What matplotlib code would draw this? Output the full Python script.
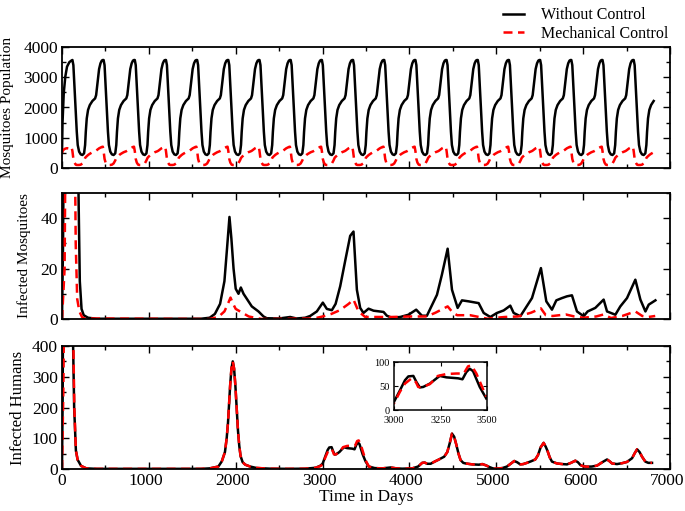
import numpy as np
import matplotlib
matplotlib.use("Agg")
import matplotlib.pyplot as plt
from matplotlib.ticker import MultipleLocator
from matplotlib.transforms import ScaledTranslation

plt.rcParams['font.family'] = ['Liberation Serif', 'DejaVu Serif']

# ---------------- data ----------------
# mosquito population: one yearly cycle (days after the peak), repeated
period = 359
first_peak = 120
n_peaks = 19
t_end = 6840

start_days = [0, 6, 20, 38, 58, 85, 110]
start_black = [500, 1500, 2470, 3020, 3350, 3500, 3555]
start_red = [490, 560, 610, 640, 655, 640, 690]

cycle_days = [0, 11, 23, 38, 50, 61, 77, 96, 115, 134, 146, 154, 165, 180, 200,
              230, 261, 273, 284, 296, 307, 323, 338, 350]
cycle_black = [3570, 3400, 2740, 1860, 1200, 760, 540, 450, 430, 485, 760, 1200,
               1640, 1920, 2080, 2215, 2300, 2410, 2690, 3020, 3270, 3460, 3550, 3570]
cycle_red = [560, 300, 180, 110, 100, 100, 100, 110, 150, 250, 330, 360, 390, 430,
             470, 520, 555, 575, 600, 625, 650, 675, 695, 705]

# infected mosquitoes
im_t_black = [0, 12, 22, 180, 192, 205, 225, 250, 300, 400, 1600, 1700, 1760, 1820,
              1870, 1900, 1928, 1950, 1975, 2000, 2032, 2059, 2090, 2128, 2185, 2262,
              2320, 2358, 2500, 2627, 2700, 2800, 2857, 2934, 3003, 3049, 3107, 3150,
              3203, 3260, 3318, 3356, 3395, 3433, 3471, 3529, 3587, 3702, 3740, 3798,
              3894, 3990, 4078, 4144, 4201, 4317, 4374, 4440, 4490, 4555, 4605, 4682,
              4797, 4855, 4931, 5008, 5085, 5161, 5200, 5277, 5411, 5514, 5576, 5641,
              5691, 5756, 5814, 5871, 5929, 6006, 6052, 6140, 6236, 6275, 6371, 6428,
              6505, 6601, 6659, 6717, 6755, 6832]
im_black = [0, 30, 80, 80, 45, 15, 4, 1.5, 0.5, 0.1, 0.1, 0.5, 2, 6,
            15, 28, 40.5, 32, 20, 12, 10, 12.5, 10, 8, 5, 3,
            1, 0.3, 0.2, 0.8, 0.2, 0.5, 1.2, 3, 6.5, 4, 3.5, 6,
            13, 23, 33, 34.7, 11.6, 4.4, 2.4, 4.1, 3.3, 2.8, 1.3, 0.5,
            0.8, 1.7, 3.7, 1.3, 1.3, 9.6, 17.6, 27.9, 11.6, 4.4, 7.4, 7.0,
            6.3, 2.4, 0.8, 2.4, 3.4, 5.3, 2.4, 1.1, 8.3, 20.2, 7.0, 3.7,
            7.4, 8.3, 9.0, 9.4, 3.0, 1.1, 3.0, 4.4, 7.7, 3.0, 1.7, 5.0,
            8.3, 15.6, 7.7, 3.0, 5.7, 7.4]
im_t_red = [0, 30, 42, 145, 158, 175, 200, 230, 260, 1700, 1800, 1870, 1910, 1940,
            1970, 2000, 2050, 2100, 2150, 2250, 2300, 2900, 3000, 3100, 3200, 3300,
            3356, 3414, 3491, 3587, 3800, 4000, 4200, 4300, 4440, 4500, 4550, 4700,
            4800, 4900, 5000, 5100, 5250, 5400, 5514, 5570, 5650, 5800, 5900, 6000,
            6150, 6236, 6320, 6450, 6601, 6680, 6750, 6830]
im_red = [0, 20, 80, 80, 30, 8, 3, 0.8, 0.2, 0, 0.8, 3, 6, 8.5,
          6, 4, 3, 2, 1, 0.3, 0, 0.2, 1, 2, 3.5, 6,
          7.7, 3, 0.8, 0.8, 0.8, 1, 1, 2.5, 5, 2.5, 1.5, 1.5,
          0.8, 0.1, 0.5, 0.8, 1, 2.5, 4.2, 1.5, 1.2, 1.8, 1, 0.5,
          1, 1.8, 0.4, 1.2, 3, 1.2, 0.8, 1.2]

# infected humans
ih_t_black = [0, 8, 15, 110, 125, 140, 160, 180, 220, 280, 400, 1600, 1700, 1800,
              1840, 1876, 1896, 1911, 1921, 1936, 1951, 1966, 1981, 1996, 2011, 2026,
              2041, 2056, 2080, 2110, 2166, 2243, 2320, 2400, 2600, 2800, 2919, 2970,
              3000, 3032, 3059, 3077, 3104, 3121, 3139, 3157, 3193, 3229, 3246, 3282,
              3345, 3368, 3389, 3407, 3425, 3461, 3496]
ih_black = [0, 250, 700, 700, 450, 200, 60, 30, 10, 2, 0.5, 0.5, 2, 8,
            25, 55, 100, 150, 197, 272, 327, 350, 327, 272, 197, 125,
            75, 42, 22, 14, 8, 3, 2, 1, 0.5, 1, 4, 10,
            17, 41, 62, 70, 71, 58, 47, 48, 55, 66, 71, 68,
            66, 64, 79, 86, 81, 48, 24]
ih_t_red = [0, 15, 30, 115, 128, 142, 160, 180, 220, 280, 400, 1600, 1700, 1800,
            1840, 1876, 1896, 1911, 1921, 1936, 1951, 1966, 1981, 1996, 2011, 2026,
            2041, 2056, 2080, 2110, 2166, 2243, 2320, 2400, 2600, 2800, 2919, 2970,
            3000, 3032, 3059, 3095, 3118, 3130, 3148, 3193, 3236, 3282, 3336, 3375,
            3398, 3416, 3443, 3496]
ih_red = [0, 250, 700, 700, 450, 200, 60, 30, 10, 2, 0.5, 0.5, 2, 8,
          25, 55, 100, 150, 197, 272, 327, 350, 327, 272, 197, 125,
          75, 42, 22, 14, 8, 4, 2, 1, 0.5, 1, 4, 9,
          14, 38, 55, 66, 58, 48, 47, 54, 71, 75, 76, 76,
          91, 93, 76, 28]
# later part, both curves nearly identical
ih_t_late = [3533, 3600, 3687, 3783, 3850, 3917, 4032, 4100, 4147, 4175, 4205, 4244,
             4290, 4340, 4400, 4436, 4465, 4490, 4515, 4539, 4565, 4589, 4620, 4647,
             4724, 4800, 4839, 4880, 4916, 4960, 4992, 5030, 5069, 5123, 5170, 5207,
             5240, 5276, 5310, 5353, 5400, 5449, 5480, 5510, 5545, 5570, 5591, 5615,
             5641, 5699, 5760, 5814, 5860, 5910, 5940, 5968, 6000, 6044, 6100, 6160,
             6220, 6275, 6305, 6333, 6390, 6450, 6505, 6563, 6595, 6621, 6650, 6678,
             6716, 6750, 6793]
ih_late = [8, 3, 2, 5, 2, 1, 2, 8, 20, 21, 17, 17,
           24, 31, 40, 55, 85, 115, 105, 80, 50, 29, 20, 18,
           15, 14, 16, 12, 7, 2, 1, 2, 3, 8, 18, 26,
           22, 15, 16, 20, 25, 31, 45, 70, 85, 72, 58, 38,
           24, 18, 16, 15, 20, 27, 22, 13, 9, 7.5, 8, 11,
           22, 31, 25, 18, 16, 19, 23, 35, 52, 64, 55, 40,
           24, 20, 20]

# ---------------- build the yearly series ----------------
def build_cycle(start_vals, cyc_vals):
    t = list(start_days)
    v = list(start_vals)
    for k in range(n_peaks):
        t0 = first_peak + k * period
        for d, y in zip(cycle_days, cyc_vals):
            if t0 + d <= t_end:
                t.append(t0 + d)
                v.append(y)
    return np.array(t), np.array(v)

mp_t, mp_black = build_cycle(start_black, cycle_black)
_, mp_red = build_cycle(start_red, cycle_red)

# ---------------- figure ----------------
fig = plt.figure(figsize=(6.85, 5.11), dpi=100)
W, H = 685.0, 511.0

def box(l, r, t, b):
    return [l / W, 1 - b / H, (r - l) / W, (b - t) / H]

ax1 = fig.add_axes(box(62, 670, 47, 168))
ax2 = fig.add_axes(box(62, 670, 193, 319))
ax3 = fig.add_axes(box(62, 670, 346, 469))

lw = 1.8
dash = (3.6, 2.2)

ax1.plot(mp_t, mp_black, color='black', lw=lw, label='Without Control')
ax1.plot(mp_t, mp_red, color='red', lw=lw, dashes=dash, label='Mechanical Control')

ax2.plot(im_t_black, im_black, color='black', lw=lw)
ax2.plot(im_t_red, im_red, color='red', lw=lw, dashes=dash)

ax3.plot(ih_t_black + ih_t_late, ih_black + ih_late, color='black', lw=lw)
ax3.plot(ih_t_red + ih_t_late, ih_red + ih_late, color='red', lw=lw, dashes=dash)

for ax, ymax, ymaj, ymin in [(ax1, 4000, 1000, 500), (ax2, 50, 20, 10), (ax3, 400, 100, 50)]:
    ax.set_xlim(0, 7000)
    ax.set_ylim(0, ymax)
    ax.xaxis.set_major_locator(MultipleLocator(1000))
    ax.xaxis.set_minor_locator(MultipleLocator(500))
    ax.yaxis.set_major_locator(MultipleLocator(ymaj))
    ax.yaxis.set_minor_locator(MultipleLocator(ymin))
    ax.tick_params(which='both', direction='in', top=True, right=True, width=1.0,
                   labelsize=12.5, pad=3)
    ax.tick_params(which='major', length=5)
    ax.tick_params(which='minor', length=3)
    for s in ax.spines.values():
        s.set_linewidth(1.3)

ax1.tick_params(labelbottom=False)
ax2.tick_params(labelbottom=False)

# bottom tick labels (except 0) sit a little left of their ticks in the reference
fig.canvas.draw()
shift = ScaledTranslation(-3 / 100, 0, fig.dpi_scale_trans)
for tick in ax3.xaxis.get_major_ticks():
    if tick.get_loc() > 0:
        tick.label1.set_transform(tick.label1.get_transform() + shift)

ax1.text(-0.090, 0.5, 'Mosquitoes Population', transform=ax1.transAxes, rotation=90,
         ha='center', va='center', fontsize=11)
ax2.text(-0.062, 0.5, 'Infected Mosquitoes', transform=ax2.transAxes, rotation=90,
         ha='center', va='center', fontsize=11)
ax3.text(-0.073, 0.5, 'Infected Humans', transform=ax3.transAxes, rotation=90,
         ha='center', va='center', fontsize=12)
ax3.set_xlabel('Time in Days', fontsize=12.5, labelpad=0)

fig.legend(loc='upper right', bbox_to_anchor=(676 / W, 1.0), frameon=False,
           fontsize=11.5, handlelength=1.3, handletextpad=1.1, labelspacing=0.15,
           borderaxespad=0.05)

# inset
axi = fig.add_axes(box(394, 487, 362, 410))
axi.plot(ih_t_black, ih_black, color='black', lw=lw)
axi.plot(ih_t_red, ih_red, color='red', lw=lw, dashes=dash)
axi.set_xlim(3000, 3500)
axi.set_ylim(0, 100)
axi.set_xticks([3000, 3250, 3500])
axi.set_yticks([0, 50, 100])
axi.tick_params(direction='in', top=True, right=True, labelsize=7.5, length=3)
axi.tick_params(axis='x', pad=4.5)
axi.tick_params(axis='y', pad=3)
for s in axi.spines.values():
    s.set_linewidth(1.1)

fig.savefig('out.png', dpi=100)
